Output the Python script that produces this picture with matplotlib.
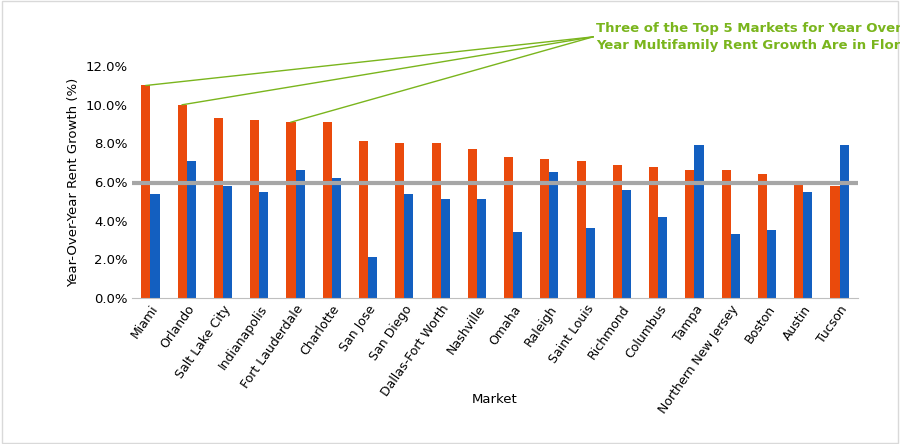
import matplotlib
matplotlib.use("Agg")
import matplotlib.pyplot as plt
import numpy as np
from matplotlib.ticker import FuncFormatter

markets = ["Miami","Orlando","Salt Lake City","Indianapolis","Fort Lauderdale","Charlotte","San Jose","San Diego","Dallas-Fort Worth","Nashville","Omaha","Raleigh","Saint Louis","Richmond","Columbus","Tampa","Northern New Jersey","Boston","Austin","Tucson"]
growth_a = [11.0,10.0,9.3,9.2,9.1,9.1,8.1,8.0,8.0,7.7,7.3,7.2,7.1,6.9,6.8,6.6,6.6,6.4,5.9,5.8]
growth_b = [5.4,7.1,5.8,5.5,6.6,6.2,2.1,5.4,5.1,5.1,3.4,6.5,3.6,5.6,4.2,7.9,3.3,3.5,5.5,7.9]
average = 5.95
highlight = [0, 1, 4]

fig = plt.figure(figsize=(9, 4.44), dpi=100)
ax = fig.add_axes([0.147, 0.329, 0.806, 0.522])
x = np.arange(len(markets))
w = 0.25
ax.bar(x - w/2, growth_a, w, color="#EA4A0C")
ax.bar(x + w/2, growth_b, w, color="#135FC0")
ax.axhline(average, color="#A6A6A6", lw=3)
ax.set_xlim(-0.5, len(markets) - 0.5)
ax.set_ylim(0, 12)
ax.set_yticks(np.arange(0, 12.1, 2))
ax.yaxis.set_major_formatter(FuncFormatter(lambda v, p: f"{v:.1f}%"))
ax.set_xticks(x)
ax.set_xticklabels(markets, rotation=55, ha="right", rotation_mode="anchor", fontsize=9)
ax.tick_params(axis="y", labelsize=9.5, length=0)
ax.tick_params(axis="x", length=0)
for s in ["top", "right", "left"]:
    ax.spines[s].set_visible(False)
ax.spines["bottom"].set_color("#BFBFBF")
ax.set_ylabel("Year-Over-Year Rent Growth (%)", fontsize=9.5)
ax.set_xlabel("Market", fontsize=9.5)
ax.xaxis.set_label_coords(0.5, -0.41)

tx, ty = 0.662, 0.917
for i in highlight:
    p = fig.transFigure.inverted().transform(ax.transData.transform((x[i] - w/2, growth_a[i])))
    fig.add_artist(plt.Line2D([tx - 0.003, p[0]], [ty, p[1]], color="#7AB51D", lw=1, transform=fig.transFigure))
fig.text(tx, ty, "Three of the Top 5 Markets for Year Over\nYear Multifamily Rent Growth Are in Florida",
         color="#7AB51D", fontsize=9.5, fontweight="bold", family="Liberation Sans Narrow",
         va="center", ha="left", linespacing=1.4)
fig.add_artist(plt.Rectangle((0.002, 0.002), 0.996, 0.996, fill=False, ec="#D9D9D9", lw=1, transform=fig.transFigure))
fig.savefig("out.png", dpi=100)
